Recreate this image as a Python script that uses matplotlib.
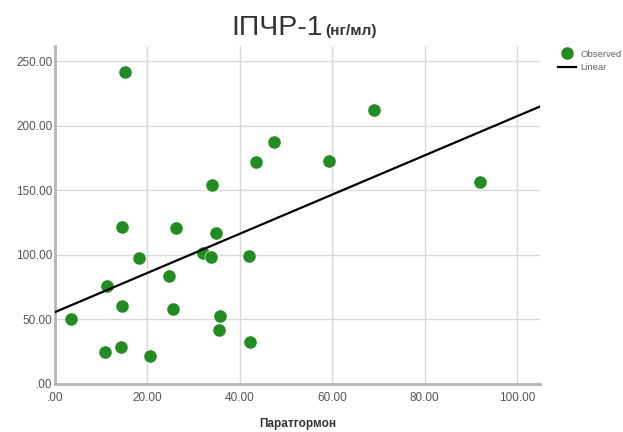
import numpy as np
import matplotlib
matplotlib.use("Agg")
import matplotlib.pyplot as plt
from matplotlib.lines import Line2D

plt.rcParams['font.family'] = ['Liberation Sans', 'DejaVu Sans']

# Паратгормон (x) vs ІПЧР-1 (y)
x_vals = [15.2, 47.4, 43.5, 34.0, 14.6, 26.1, 34.8, 18.2, 32.1, 33.8, 42.0, 24.6, 11.3,
          14.5, 25.6, 3.5, 35.8, 35.6, 42.1, 10.8, 14.3, 20.5, 69.0, 59.3, 92.0]
y_vals = [241.7, 187.5, 172.0, 153.8, 121.5, 120.4, 116.8, 97.3, 101.7, 98.6, 99.1, 83.6, 75.8,
          60.3, 57.7, 49.9, 52.3, 41.6, 32.5, 24.5, 28.6, 21.6, 212.7, 172.5, 156.4]

# linear fit line as shown
fit_intercept = 55.5
fit_slope = 1.52

x_ticks = [0, 20, 40, 60, 80, 100]
y_ticks = [0, 50, 100, 150, 200, 250]

def fmt(v):
    s = "%.2f" % v
    return s[1:] if s.startswith("0") else s

fig = plt.figure(figsize=(6.23, 4.32), dpi=100)
ax = fig.add_axes([0.0883, 0.112, 0.7787, 0.7815])

xmax = 105
ax.set_xlim(0, xmax)
ax.set_ylim(0, 262)

ax.grid(True, color='#d9d9d9', linewidth=1.0)
ax.set_axisbelow(True)

ax.scatter(x_vals, y_vals, s=90, color='#228b22', edgecolors='white', linewidths=0.4, zorder=3)
xs = np.array([0, xmax])
ax.plot(xs, fit_intercept + fit_slope * xs, color='black', linewidth=1.6, zorder=4)

ax.set_xticks(x_ticks)
ax.set_yticks(y_ticks)
ax.set_xticklabels([fmt(v) for v in x_ticks])
ax.set_yticklabels([fmt(v) for v in y_ticks])
ax.tick_params(axis='x', length=0, labelsize=8.5, labelcolor='#555555', pad=6)
ax.tick_params(axis='y', length=0, labelsize=8.5, labelcolor='#555555', pad=2)

for s in ['top', 'right']:
    ax.spines[s].set_visible(False)
for s in ['left', 'bottom']:
    ax.spines[s].set_color('#b5b5b5')
    ax.spines[s].set_linewidth(2)

# x axis label placed directly
fig.text(298 / 623, 1 - 424 / 432, "Паратгормон", fontsize=8.5, fontweight='bold', color='#333333',
         ha='center', va='center')

# title in two parts
fig.text(323 / 623, 1 - 35 / 432, "ІПЧР-1", fontsize=20.5, color='#333333', ha='right', va='baseline')
fig.text(325 / 623, 1 - 35 / 432, "(нг/мл)", fontsize=11, fontweight='bold', color='#333333',
         ha='left', va='baseline')

handles = [Line2D([], [], marker='o', linestyle='none', markersize=8, color='#228b22'),
           Line2D([], [], color='black', linewidth=1.6)]
fig.legend(handles, ["Observed", "Linear"], loc='upper left', bbox_to_anchor=(553 / 623, 1 - 45 / 432),
           frameon=False, fontsize=6.8, labelcolor='#666666', handlelength=1.9, handletextpad=0.5,
           labelspacing=0.45, borderpad=0)

fig.savefig("out.png", dpi=100)
